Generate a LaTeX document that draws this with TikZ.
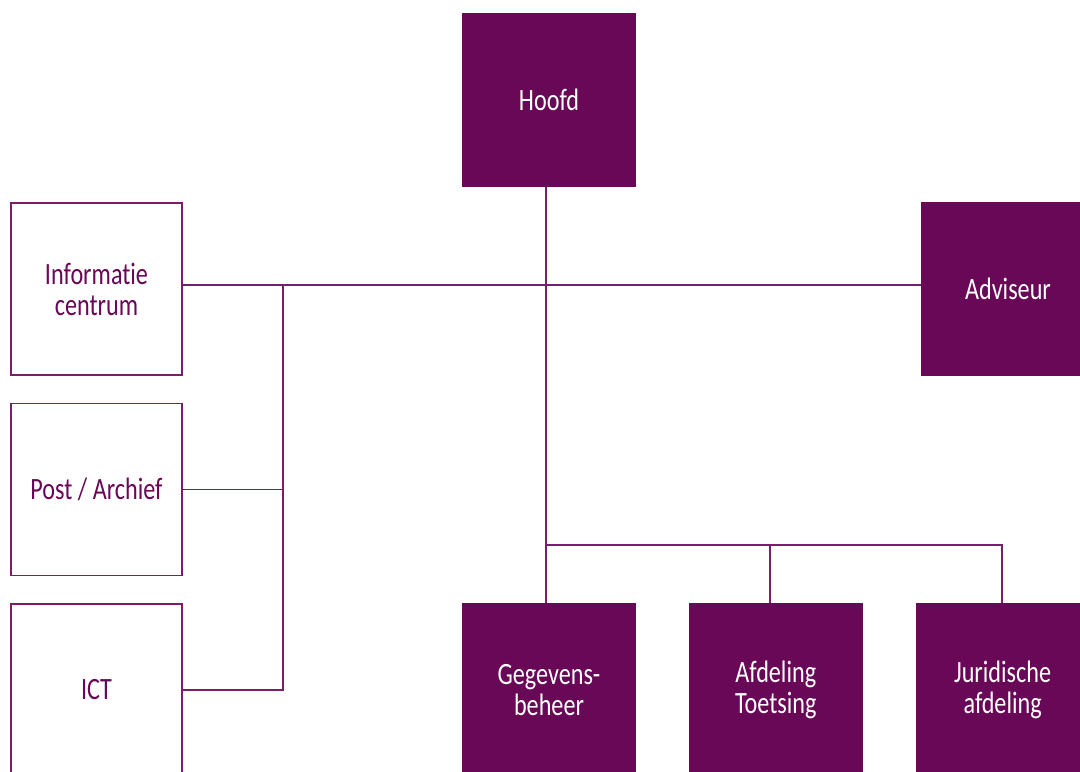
\documentclass[tikz,border=0pt]{standalone}
\usepackage{fontspec}
\setmainfont{Carlito}[FakeStretch=0.78, Ligatures=NoCommon]
\usepackage{tikz}
\usetikzlibrary{positioning, calc}
\definecolor{unitfill}{RGB}{104,8,86}
\definecolor{unitline}{RGB}{122,30,108}

\begin{document}
\begin{tikzpicture}[
        x=0.5pt, y=-0.5pt,
        node distance=13.5pt and 26pt,
        unit/.style={rectangle, minimum width=87pt, minimum height=87pt, align=center, inner sep=0pt,
            font=\fontsize{15.5}{15.5}\selectfont},
        darkunit/.style={unit, fill=unitfill, text=white},
        lightunit/.style={unit, draw=unitline, line width=0.7pt, fill=white, text=unitfill,
            minimum width=85.5pt, minimum height=86pt},
        link/.style={draw=unitline, line width=0.75pt}
    ]
    \useasboundingbox (0,0) rectangle (1080,771);

    \node[darkunit] (hoofd) at (549,100) {Hoofd};
    \node[darkunit] (adviseur) at (1008,289) {Adviseur};

    \node[lightunit] (info) at (96.5,289) {Informatie\\centrum};
    \node[lightunit] (post) [below=of info] {Post / Archief};
    \node[lightunit] (ict) [below=of post] {ICT};

    \node[darkunit] (gegevens) at (549,690) {Gegevens-\\beheer};
    \node[darkunit] (toetsing) [right=of gegevens] {Afdeling\\Toetsing};
    \node[darkunit] (juridisch) [right=of toetsing] {Juridische\\afdeling};

    \coordinate (spine) at (546,545);
    \coordinate (bus) at (283,285);
    \coordinate (toetsingtap) at (770,545);
    \coordinate (juridischtap) at (1002,545);

    % staf
    \draw[link] (hoofd.south -| spine) -- (gegevens.north -| spine);
    \draw[link] (info.east |- bus) -- (adviseur.west |- bus);
    \draw[link] (bus) -- (bus |- ict.east) -- (ict.east);
    \draw[link] (post.east) -- (bus |- post.east);

    % afdelingen
    \draw[link] (spine) -- (juridischtap) -- (juridisch.north -| juridischtap);
    \draw[link] (toetsingtap) -- (toetsing.north -| toetsingtap);

\end{tikzpicture}
\end{document}
